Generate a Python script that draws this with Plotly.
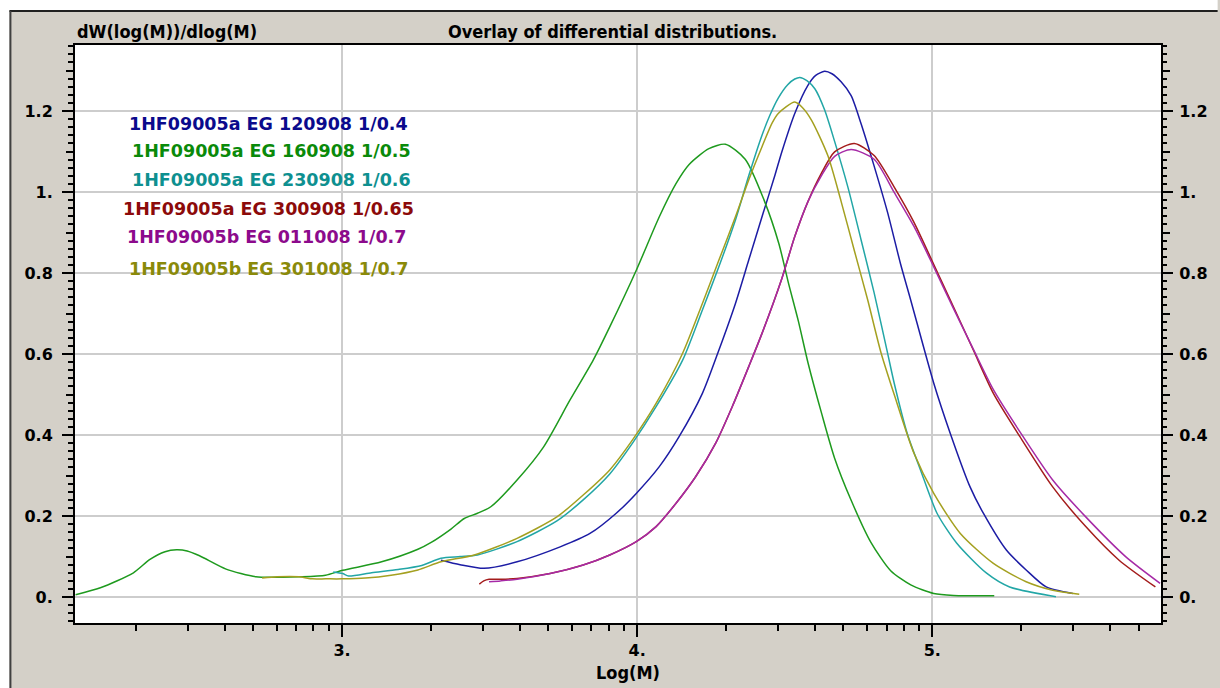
import numpy as np
import plotly.graph_objects as go

# ---- data (Log(M) vs dW/dlog(M)) ----
blue_x = [3.335, 3.40, 3.481, 3.593, 3.739, 3.84, 3.929, 3.997, 4.075, 4.142,
          4.221, 4.277, 4.333, 4.378, 4.423, 4.467, 4.49, 4.534, 4.579, 4.605,
          4.635, 4.66, 4.691, 4.725, 4.759, 4.803, 4.848, 4.893, 4.927, 5.005,
          5.061, 5.128, 5.173, 5.251, 5.318, 5.386, 5.476]
blue_y = [0.091, 0.080, 0.071, 0.087, 0.124, 0.157, 0.207, 0.256, 0.322, 0.396,
          0.503, 0.610, 0.725, 0.832, 0.939, 1.042, 1.099, 1.194, 1.264, 1.288,
          1.298, 1.292, 1.272, 1.238, 1.168, 1.064, 0.951, 0.821, 0.733, 0.528,
          0.404, 0.272, 0.207, 0.116, 0.067, 0.025, 0.009]

green_x = [2.097, 2.181, 2.293, 2.349, 2.40, 2.439, 2.475, 2.517, 2.607, 2.708,
           2.80, 2.854, 2.944, 3.002, 3.134, 3.257, 3.302, 3.369, 3.414, 3.459,
           3.504, 3.593, 3.683, 3.772, 3.851, 3.907, 3.997, 4.075, 4.131, 4.176,
           4.243, 4.299, 4.366, 4.43, 4.48, 4.512, 4.546, 4.579, 4.624, 4.669,
           4.725, 4.792, 4.859, 4.927, 5.005, 5.072, 5.21]
green_y = [0.006, 0.023, 0.060, 0.093, 0.112, 0.117, 0.114, 0.102, 0.069, 0.050,
           0.049, 0.050, 0.054, 0.066, 0.087, 0.118, 0.135, 0.168, 0.194, 0.207,
           0.223, 0.289, 0.371, 0.486, 0.585, 0.667, 0.807, 0.939, 1.020, 1.068,
           1.107, 1.118, 1.081, 0.980, 0.873, 0.777, 0.682, 0.578, 0.456, 0.343,
           0.239, 0.135, 0.065, 0.030, 0.009, 0.004, 0.003]

teal_x = [2.97, 3.002, 3.022, 3.10, 3.19, 3.27, 3.335, 3.40, 3.459, 3.593,
          3.728, 3.817, 3.907, 3.986, 4.064, 4.154, 4.221, 4.277, 4.333, 4.378,
          4.423, 4.45, 4.478, 4.51, 4.534, 4.551, 4.575, 4.602, 4.635, 4.669,
          4.714, 4.759, 4.803, 4.848, 4.871, 4.915, 4.96, 5.016, 5.083, 5.184,
          5.262, 5.419]
teal_y = [0.062, 0.058, 0.052, 0.060, 0.068, 0.078, 0.096, 0.100, 0.104, 0.137,
          0.188, 0.240, 0.304, 0.382, 0.470, 0.585, 0.709, 0.816, 0.931, 1.040,
          1.140, 1.190, 1.232, 1.265, 1.279, 1.283, 1.275, 1.255, 1.203, 1.125,
          1.012, 0.881, 0.751, 0.604, 0.528, 0.404, 0.314, 0.207, 0.133, 0.059,
          0.025, 0.001]

red_x = [3.465, 3.48, 3.498, 3.537, 3.593, 3.705, 3.817, 3.907, 3.997, 4.064,
         4.131, 4.198, 4.266, 4.322, 4.378, 4.423, 4.49, 4.534, 4.579, 4.624,
         4.669, 4.736, 4.803, 4.871, 4.938, 5.005, 5.072, 5.139, 5.207, 5.297,
         5.408, 5.52, 5.633, 5.756]
red_y = [0.032, 0.040, 0.044, 0.044, 0.046, 0.058, 0.079, 0.104, 0.137, 0.174,
         0.231, 0.297, 0.380, 0.470, 0.569, 0.651, 0.786, 0.890, 0.977, 1.046,
         1.099, 1.120, 1.090, 1.012, 0.925, 0.821, 0.716, 0.610, 0.503, 0.396,
         0.272, 0.174, 0.091, 0.025]

purple_x = [3.498, 3.537, 3.593, 3.705, 3.817, 3.907, 3.997, 4.064, 4.131, 4.198,
            4.266, 4.322, 4.378, 4.423, 4.49, 4.534, 4.579, 4.624, 4.669, 4.725,
            4.803, 4.871, 4.938, 5.005, 5.072, 5.139, 5.207, 5.297, 5.408, 5.52,
            5.655, 5.772]
purple_y = [0.038, 0.040, 0.044, 0.058, 0.079, 0.104, 0.137, 0.174, 0.231, 0.297,
            0.380, 0.470, 0.569, 0.651, 0.786, 0.890, 0.977, 1.040, 1.088, 1.105,
            1.081, 0.999, 0.915, 0.815, 0.712, 0.612, 0.512, 0.408, 0.289, 0.198,
            0.100, 0.034]

olive_x = [2.729, 2.78, 2.854, 2.90, 2.944, 3.0, 3.079, 3.166, 3.257, 3.335,
           3.448, 3.593, 3.728, 3.817, 3.907, 3.986, 4.064, 4.154, 4.221, 4.277,
           4.333, 4.378, 4.423, 4.457, 4.478, 4.534, 4.562, 4.591, 4.646, 4.691,
           4.736, 4.781, 4.826, 4.871, 4.938, 5.005, 5.095, 5.207, 5.318, 5.408,
           5.498]
olive_y = [0.047, 0.050, 0.050, 0.045, 0.045, 0.045, 0.047, 0.054, 0.067, 0.087,
           0.104, 0.145, 0.198, 0.252, 0.314, 0.390, 0.478, 0.602, 0.725, 0.832,
           0.939, 1.030, 1.112, 1.170, 1.194, 1.222, 1.207, 1.177, 1.090, 0.977,
           0.855, 0.734, 0.604, 0.500, 0.355, 0.256, 0.157, 0.083, 0.038, 0.017,
           0.007]

series_names = [
    "1HF09005a EG 120908 1/0.4",
    "1HF09005a EG 160908 1/0.5",
    "1HF09005a EG 230908 1/0.6",
    "1HF09005a EG 300908 1/0.65",
    "1HF09005b EG 011008 1/0.7",
    "1HF09005b EG 301008 1/0.7",
]
series_x = [blue_x, green_x, teal_x, red_x, purple_x, olive_x]
series_y = [blue_y, green_y, teal_y, red_y, purple_y, olive_y]

y_tickvals = [0, 0.2, 0.4, 0.6, 0.8, 1.0, 1.2]
y_ticktext = ["0.", "0.2", "0.4", "0.6", "0.8", "1.", "1.2"]
y_midticks = [0.1, 0.3, 0.5, 0.7, 0.9, 1.1, 1.3]
x_tickvals = [3, 4, 5]
x_ticktext = ["3.", "4.", "5."]
x_minor_masses = [m * 10 ** e for e in (2, 3, 4, 5) for m in range(2, 10)]

# ---- styling ----
LINE_COLORS = ["#1c1ca4", "#1e9a1e", "#22a6a6", "#a41c1c", "#a62aa6", "#a4a020"]
TEXT_COLORS = ["#0a0a8c", "#0a8a0a", "#0e9090", "#8c0a0a", "#8c0a8c", "#8a8a0a"]
LEGEND_LEFT_PX = [127, 130, 130, 121, 125, 127]
LEGEND_MID_PX = [124, 151, 180, 209, 237, 269]

W, H = 1220, 688
L, R, T, B = 75, 1168, 45, 623
X_RANGE = [2.095, 5.775]
Y_RANGE = [-0.064, 1.363]
FRAME_GRAY = "#d4d0c8"
BOLD = "DejaVu Sans"
NARROW = "DejaVu Sans Condensed, Liberation Sans Narrow, DejaVu Sans"


def px_x(px):
    return (px - L) / (R - L)


def px_y(py):
    return (B - py) / (B - T)


def data_x(px):
    return X_RANGE[0] + (px - L) / (R - L) * (X_RANGE[1] - X_RANGE[0])


def data_y(py):
    return Y_RANGE[0] + (B - py) / (B - T) * (Y_RANGE[1] - Y_RANGE[0])


fig = go.Figure()
for xs, ys, name, color in zip(series_x, series_y, series_names, LINE_COLORS):
    fig.add_trace(go.Scatter(
        x=xs, y=ys, mode="lines", name=name,
        line=dict(color=color, width=1.5, shape="spline", smoothing=0.7),
        showlegend=False,
    ))

# empty traces to register the extra tick axes
for ax in ("y2", "y3", "y4"):
    fig.add_trace(go.Scatter(x=[], y=[], yaxis=ax, showlegend=False))

for name, color, lx, my in zip(series_names, TEXT_COLORS, LEGEND_LEFT_PX, LEGEND_MID_PX):
    fig.add_annotation(
        x=data_x(lx), y=data_y(my), xref="x", yref="y", text=name, showarrow=False,
        xanchor="left", yanchor="middle",
        font=dict(family=BOLD, size=17.5, color=color, weight="bold"),
    )

title_font = dict(family=NARROW, size=18, color="#000000", weight="bold")
fig.add_annotation(x=px_x(L), y=px_y(31), xref="paper", yref="paper",
                   text="dW(log(M))/dlog(M)", showarrow=False,
                   xanchor="left", yanchor="middle", font=title_font)
fig.add_annotation(x=px_x(448), y=px_y(31), xref="paper", yref="paper",
                   text="Overlay of differential distributions.", showarrow=False,
                   xanchor="left", yanchor="middle", font=title_font)
fig.add_annotation(x=px_x(632), y=px_y(672), xref="paper", yref="paper",
                   text="Log(M)", showarrow=False,
                   xanchor="center", yanchor="middle", font=title_font)

# window frame: white strips with a dark edge at top and left
fig.add_shape(type="rect", xref="paper", yref="paper", layer="below",
              x0=px_x(-5), x1=px_x(W + 5), y0=px_y(10), y1=px_y(-5),
              fillcolor="white", line_width=0)
fig.add_shape(type="rect", xref="paper", yref="paper", layer="below",
              x0=px_x(-5), x1=px_x(9), y0=px_y(H + 5), y1=px_y(-5),
              fillcolor="white", line_width=0)
fig.add_shape(type="line", xref="paper", yref="paper",
              x0=px_x(9), x1=px_x(W + 5), y0=px_y(11), y1=px_y(11),
              line=dict(color="#202020", width=2))
fig.add_shape(type="line", xref="paper", yref="paper",
              x0=px_x(10), x1=px_x(10), y0=px_y(11), y1=px_y(H + 5),
              line=dict(color="#404040", width=2))

tick_font = dict(family=BOLD, size=16, color="#000000", weight="bold")
grid = dict(showgrid=True, gridcolor="#cdcdcd", gridwidth=2)

fig.update_layout(
    width=W, height=H,
    margin=dict(l=L, r=W - R, t=T, b=H - B),
    paper_bgcolor=FRAME_GRAY, plot_bgcolor="white",
    xaxis=dict(
        range=X_RANGE, tickmode="array", tickvals=x_tickvals, ticktext=x_ticktext,
        ticks="outside", ticklen=12, tickwidth=2, tickcolor="black",
        tickfont=tick_font, showline=True, linecolor="black", linewidth=2,
        mirror=True, zeroline=False, **grid,
        minor=dict(tickmode="array", tickvals=list(np.log10(x_minor_masses)),
                   ticks="outside", ticklen=6, tickwidth=2, tickcolor="black",
                   showgrid=False),
    ),
    yaxis=dict(
        range=Y_RANGE, tickmode="array", tickvals=y_tickvals, ticktext=y_ticktext,
        ticks="outside", ticklen=11, tickwidth=2, tickcolor="black",
        tickfont=tick_font, showline=True, linecolor="black", linewidth=2,
        mirror=True, zeroline=False, ticklabelstandoff=6, **grid,
        minor=dict(dtick=0.02, tick0=0, ticks="outside", ticklen=5, tickwidth=2,
                   tickcolor="black", showgrid=False),
    ),
    yaxis2=dict(
        range=Y_RANGE, overlaying="y", side="right", tickmode="array",
        tickvals=y_tickvals, ticktext=y_ticktext,
        ticks="outside", ticklen=11, tickwidth=2, tickcolor="black",
        tickfont=tick_font, showline=False, showgrid=False, zeroline=False,
        ticklabelstandoff=3,
        minor=dict(dtick=0.02, tick0=0, ticks="outside", ticklen=5, tickwidth=2,
                   tickcolor="black", showgrid=False),
    ),
    yaxis3=dict(
        range=Y_RANGE, overlaying="y", side="left", tickmode="array",
        tickvals=y_midticks, showticklabels=False, ticks="outside", ticklen=8,
        tickwidth=2, tickcolor="black", showline=False, showgrid=False, zeroline=False,
    ),
    yaxis4=dict(
        range=Y_RANGE, overlaying="y", side="right", tickmode="array",
        tickvals=y_midticks, showticklabels=False, ticks="outside", ticklen=8,
        tickwidth=2, tickcolor="black", showline=False, showgrid=False, zeroline=False,
    ),
)

# drop the default page margin so the figure sits at the window's top-left corner
fig.write_html(
    "out.html",
    config={"displayModeBar": False},
    post_script="document.body.style.margin='0';document.body.style.overflow='hidden';",
)
